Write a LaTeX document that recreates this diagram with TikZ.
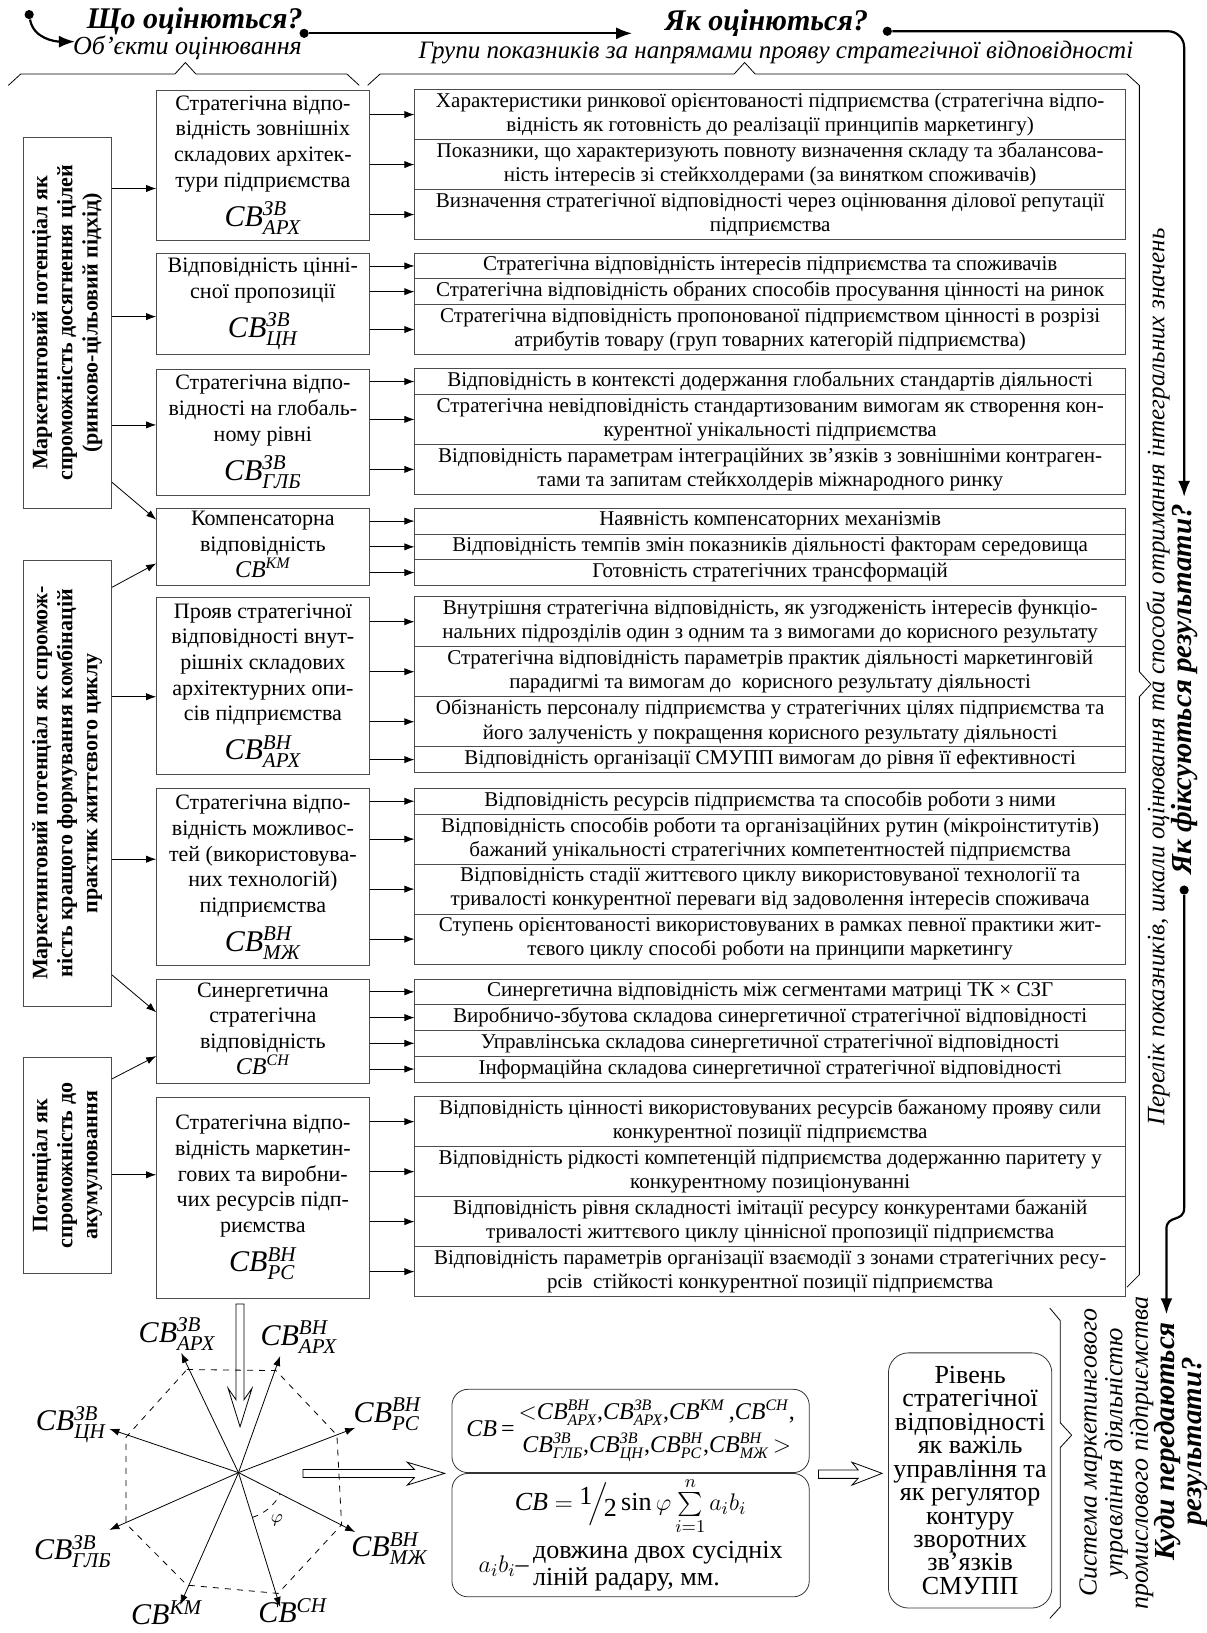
\documentclass[tikz,border=0pt]{standalone}
\usepackage{fontspec}
\usepackage{amsmath}
\setmainfont{Liberation Serif}
\usetikzlibrary{positioning,arrows.meta}

\newcommand{\cb}[2]{\textit{CB}\ensuremath{^{\text{\itshape #1}}_{\text{\itshape #2}}}}
\newcommand{\cbl}[2]{{\fontsize{15}{12}\selectfont\cb{#1}{#2}}}

\tikzset{
  ind/.style={draw=black!70, minimum width=355.2pt, minimum height=12.85pt, inner sep=0pt, outer sep=0pt, align=center, font=\fontsize{10.5}{12}\selectfont},
  two/.style={minimum height=24.96pt},
  obj/.style={draw=black!70, anchor=north west, minimum width=106.1pt, inner sep=1pt, align=center, font=\fontsize{11}{12.8}\selectfont},
  pot/.style={draw=black!70, rotate=90, minimum height=44.2pt, inner sep=1pt, align=center, font=\bfseries\fontsize{11}{12.5}\selectfont},
  dot/.style={circle, fill, inner sep=0pt, minimum size=4.6pt},
  ask/.style={font=\bfseries\itshape\fontsize{15}{17}\selectfont},
  note/.style={font=\itshape\fontsize{13}{13}\selectfont},
  bold line/.style={line width=1.1pt},
  radar/.style={font=\fontsize{15}{15}\selectfont},
  fbox/.style={draw=black!80, rounded corners=8pt, minimum width=178.4pt, inner sep=2pt, align=center}
}

\begin{document}
\begin{tikzpicture}[x=0.52pt, y=-0.52pt, >={Latex[length=5pt,width=3.6pt]}]
\useasboundingbox (0,0) rectangle (1158,1568);

\node[dot] (d1) at (28,14) {};
\node[ask] (q1) at (187,20) {Що оцінються?};
\node[note] (s1) at (180,46) {Об'єкти оцінювання};
\coordinate (c1) at (72,40);
\draw[bold line, -{Latex[length=8pt,width=6pt]}] (d1) to[out=-80,in=180] (c1);
\node[dot] (d2) at (292,32) {};
\coordinate (e2) at (607,32);
\draw[bold line, -{Latex[length=8pt,width=6pt]}] (d2) -- (e2);
\node[ask] (q2) at (736,22) {Як оцінються?};
\node[note, font=\itshape\fontsize{12.5}{13}\selectfont] (s2) at (745,50) {Групи показників за напрямами прояву стратегічної відповідності};
\node[dot] (d3) at (852,30) {};

\draw (8,82) -- (20,71) -- (168,71) -- (178,60) -- (188,71) -- (333,71) -- (345,82);
\draw (353,82) -- (365,71) -- (705,71) -- (715,60) -- (725,71) -- (1082,71) -- (1094,82) -- (1094,645) -- (1105,657) -- (1094,669) -- (1094,1224) -- (1082,1236);

\node[pot, minimum width=185.1pt] (a) at (64.5,310) {Маркетинговий потенціал як\\спроможність досягнення цілей\\(ринково-цільовий підхід)};
\node[pot, minimum width=222.6pt] (c) at (64.5,752) {Маркетинговий потенціал як спромож-\\ність кращого формування комбінацій\\практик життєвого циклу};
\node[pot, minimum width=108.2pt] (d) at (64.5,1119) {Потенціал як\\спроможність до\\акумулювання};

\node[obj, minimum height=74.9pt] (b1) at (150,86) {Стратегічна відпо-\\відність зовнішніх\\складових архітек-\\тури підприємства\\[4pt]\cbl{ЗВ}{АРХ}};
\node[obj, minimum height=50.4pt] (b2) at (150,243) {Відповідність цінні-\\сної пропозиції\\[4pt]\cbl{ЗВ}{ЦН}};
\node[obj, minimum height=62.9pt] (b3) at (150,354) {Стратегічна відпо-\\відності на глобаль-\\ному рівні\\[4pt]\cbl{ЗВ}{ГЛБ}};
\node[obj, minimum height=38.5pt] (b4) at (150,488) {Компенсаторна\\відповідність\\{\fontsize{12}{12}\selectfont\cb{КМ}{}}};
\node[obj, minimum height=88.4pt] (b5) at (150,573) {Прояв стратегічної\\відповідності внут-\\рішніх складових\\архітектурних опи-\\сів підприємства\\[4pt]\cbl{ВН}{АРХ}};
\node[obj, minimum height=88.4pt] (b6) at (150,757) {Стратегічна відпо-\\відність можливос-\\тей (використовува-\\них технологій)\\підприємства\\[4pt]\cbl{ВН}{МЖ}};
\node[obj, minimum height=52pt] (b7) at (150,940) {Синергетична\\стратегічна\\відповідність\\{\fontsize{12}{12}\selectfont\cb{СН}{}}};
\node[obj, minimum height=100.4pt] (b8) at (150,1053) {Стратегічна відпо-\\відність маркетин-\\гових та виробни-\\чих ресурсів підп-\\риємства\\[4pt]\cbl{ВН}{РС}};

\node[ind, two, anchor=north] (r11) at (739.5,86) {Характеристики ринкової орієнтованості підприємства (стратегічна відпо-\\відність як готовність до реалізації принципів маркетингу)};
\node[ind, two, below=0pt of r11] (r12) {Показники, що характеризують повноту визначення складу та збалансова-\\ність інтересів зі стейкхолдерами (за винятком споживачів)};
\node[ind, two, below=0pt of r12] (r13) {Визначення стратегічної відповідності через оцінювання ділової репутації\\підприємства};

\node[ind, anchor=north] (r21) at (739.5,243) {Стратегічна відповідність інтересів підприємства та споживачів};
\node[ind, below=0pt of r21] (r22) {Стратегічна відповідність обраних способів просування цінності на ринок};
\node[ind, two, below=0pt of r22] (r23) {Стратегічна відповідність пропонованої підприємством цінності в розрізі\\атрибутів товару (груп товарних категорій підприємства)};

\node[ind, anchor=north] (r31) at (739.5,354) {Відповідність в контексті додержання глобальних стандартів діяльності};
\node[ind, two, below=0pt of r31] (r32) {Стратегічна невідповідність стандартизованим вимогам як створення кон-\\курентної унікальності підприємства};
\node[ind, two, below=0pt of r32] (r33) {Відповідність параметрам інтеграційних зв’язків з зовнішніми контраген-\\тами та запитам стейкхолдерів міжнародного ринку};

\node[ind, anchor=north] (r41) at (739.5,488) {Наявність компенсаторних механізмів};
\node[ind, below=0pt of r41] (r42) {Відповідність темпів змін показників діяльності факторам середовища};
\node[ind, below=0pt of r42] (r43) {Готовність стратегічних трансформацій};

\node[ind, two, anchor=north] (r51) at (739.5,573) {Внутрішня стратегічна відповідність, як узгодженість інтересів функціо-\\нальних підрозділів один з одним та з вимогами до корисного результату};
\node[ind, two, below=0pt of r51] (r52) {Стратегічна відповідність параметрів практик діяльності маркетинговій\\парадигмі та вимогам до~ корисного результату діяльності};
\node[ind, two, below=0pt of r52] (r53) {Обізнаність персоналу підприємства у стратегічних цілях підприємства та\\його залученість у покращення корисного результату діяльності};
\node[ind, below=0pt of r53] (r54) {Відповідність організації СМУПП вимогам до рівня її ефективності};

\node[ind, anchor=north] (r61) at (739.5,757) {Відповідність ресурсів підприємства та способів роботи з ними};
\node[ind, two, below=0pt of r61] (r62) {Відповідність способів роботи та організаційних рутин (мікроінститутів)\\бажаний унікальності стратегічних компетентностей підприємства};
\node[ind, two, below=0pt of r62] (r63) {Відповідність стадії життєвого циклу використовуваної технології та\\тривалості конкурентної переваги від задоволення інтересів споживача};
\node[ind, two, below=0pt of r63] (r64) {Ступень орієнтованості використовуваних в рамках певної практики жит-\\тєвого циклу способі роботи на принципи маркетингу};

\node[ind, anchor=north] (r71) at (739.5,940) {Синергетична відповідність між сегментами матриці ТК × СЗГ};
\node[ind, below=0pt of r71] (r72) {Виробничо-збутова складова синергетичної стратегічної відповідності};
\node[ind, below=0pt of r72] (r73) {Управлінська складова синергетичної стратегічної відповідності};
\node[ind, below=0pt of r73] (r74) {Інформаційна складова синергетичної стратегічної відповідності};

\node[ind, two, anchor=north] (r81) at (739.5,1053) {Відповідність цінності використовуваних ресурсів бажаному прояву сили\\конкурентної позиції підприємства};
\node[ind, two, below=0pt of r81] (r82) {Відповідність рідкості компетенцій підприємства додержанню паритету у\\конкурентному позиціонуванні};
\node[ind, two, below=0pt of r82] (r83) {Відповідність рівня складності імітації ресурсу конкурентами бажаній\\тривалості життєвого циклу ціннісної пропозиції підприємства};
\node[ind, two, below=0pt of r83] (r84) {Відповідність параметрів організації взаємодії з зонами стратегічних ресу-\\рсів~ стійкості конкурентної позиції підприємства};

\draw[->] (a.south |- 0,181) -- (b1.west |- 0,181);
\draw[->] (a.south |- 0,304) -- (b2.west |- 0,304);
\draw[->] (a.south |- 0,408) -- (b3.west |- 0,408);
\draw[->] (a.south |- 0,463) -- (b4.west |- 0,499);
\draw[->] (c.south |- 0,564) -- (b4.west |- 0,541);
\draw[->] (c.south |- 0,669) -- (b5.west |- 0,669);
\draw[->] (c.south |- 0,825) -- (b6.west |- 0,825);
\draw[->] (c.south |- 0,936) -- (b7.west |- 0,972);
\draw[->] (d.south |- 0,1036) -- (b7.west |- 0,1014);
\draw[->] (d.south |- 0,1128) -- (b8.west |- 0,1128);

\draw[->] (b1.east |- r11) -- (r11.west);
\draw[->] (b1.east |- r12) -- (r12.west);
\draw[->] (b1.east |- r13) -- (r13.west);
\draw[->] (b2.east |- r21) -- (r21.west);
\draw[->] (b2.east |- r22) -- (r22.west);
\draw[->] (b2.east |- r23) -- (r23.west);
\draw[->] (b3.east |- r31) -- (r31.west);
\draw[->] (b3.east |- r32) -- (r32.west);
\draw[->] (b3.east |- r33) -- (r33.west);
\draw[->] (b4.east |- r41) -- (r41.west);
\draw[->] (b4.east |- r42) -- (r42.west);
\draw[->] (b4.east |- r43) -- (r43.west);
\draw[->] (b5.east |- r51) -- (r51.west);
\draw[->] (b5.east |- r52) -- (r52.west);
\draw[->] (b5.east |- r53) -- (r53.west);
\draw[->] (b5.east |- r54) -- (r54.west);
\draw[->] (b6.east |- r61) -- (r61.west);
\draw[->] (b6.east |- r62) -- (r62.west);
\draw[->] (b6.east |- r63) -- (r63.west);
\draw[->] (b6.east |- r64) -- (r64.west);
\draw[->] (b7.east |- r71) -- (r71.west);
\draw[->] (b7.east |- r72) -- (r72.west);
\draw[->] (b7.east |- r73) -- (r73.west);
\draw[->] (b7.east |- r74) -- (r74.west);
\draw[->] (b8.east |- r81) -- (r81.west);
\draw[->] (b8.east |- r82) -- (r82.west);
\draw[->] (b8.east |- r83) -- (r83.west);
\draw[->] (b8.east |- r84) -- (r84.west);

\node[rotate=90, font=\itshape\fontsize{12.5}{13}\selectfont] (lst) at (1112,650) {Перелік показників, шкали оцінювання та способи отримання інтегральних значень};
\node[rotate=90, font=\bfseries\itshape\fontsize{14.5}{12}\selectfont] (fx) at (1137,662) {Як фіксуються результати?};
\draw[bold line, rounded corners=8pt, -{Latex[length=8pt,width=6pt]}] (d3) -| (fx.east);
\node[dot] (d4) at ([yshift=-4pt]fx.west) {};
\coordinate (k0) at (1120,1262);
\draw[bold line, -{Latex[length=8pt,width=6pt]}] (d4) -- (1137,1160) .. controls (1137,1174) and (1120,1166) .. (1120,1180) -- (k0);
\node[rotate=90, align=center, font=\bfseries\itshape\fontsize{14.5}{11.8}\selectfont] (kd) at (1134,1384) {Куди передаються\\результати?};
\node[rotate=90, align=center, font=\itshape\fontsize{13}{11.7}\selectfont] (sys) at (1072,1395) {Система маркетингового\\управління діяльністю\\промислового підприємства};
\draw (1008,1256) -- (1018,1268) -- (1018,1366) -- (1029,1378) -- (1018,1390) -- (1018,1543) -- (1008,1554);

\coordinate (o) at (229,1414);
\coordinate (t1) at (174,1299);
\coordinate (t2) at (269,1302);
\coordinate (t3) at (341,1371);
\coordinate (t4) at (341,1471);
\coordinate (t5) at (269,1543);
\coordinate (t6) at (173,1541);
\coordinate (t7) at (105,1469);
\coordinate (t8) at (105,1372);
\draw[->] (o) -- (t1);
\draw[->] (o) -- (t2);
\draw[->] (o) -- (t3);
\draw[->] (o) -- (t4);
\draw[->] (o) -- (t5);
\draw[->] (o) -- (t6);
\draw[->] (o) -- (t7);
\draw[->] (o) -- (t8);
\draw[dashed] (179.5,1315) -- (265,1316) -- (323.5,1378) -- (328,1464) -- (267,1530) -- (179.5,1522) -- (121,1463) -- (121,1380) -- cycle;
\draw[dashed] ([shift={(-72.8:23.4pt)}]o) arc[start angle=-72.8, end angle=-27, radius=23.4pt];
\node[font=\small] (phi) at (266,1460) {$\varphi$};
\node[radar] (l1) at (170,1281) {\cb{ЗВ}{АРХ}};
\node[radar] (l2) at (287,1284) {\cb{ВН}{АРХ}};
\node[radar] (l3) at (372,1358) {\cb{ВН}{РС}};
\node[radar] (l4) at (374,1487) {\cb{ВН}{МЖ}};
\node[radar] (l5) at (281,1550) {\cb{СН}{}};
\node[radar] (l6) at (160,1552) {\cb{КМ}{}};
\node[radar] (l7) at (70,1490) {\cb{ЗВ}{ГЛБ}};
\node[radar] (l8) at (68,1368) {\cb{ЗВ}{ЦН}};

\draw (226.6,1252) -- (226.6,1344) -- (219,1333) -- (230.5,1370) -- (242,1333) -- (234.3,1344) -- (234.3,1252) -- cycle;
\draw (291,1411) -- (398,1411) -- (391,1404) -- (427,1414.7) -- (391,1426) -- (398,1418.6) -- (291,1418.6) -- cycle;
\draw (786,1411.5) -- (824,1411.5) -- (818,1404) -- (847,1414.7) -- (818,1426) -- (824,1419.5) -- (786,1419.5) -- cycle;

\node[fbox, minimum height=41.6pt, inner sep=1pt, font=\fontsize{12}{13}\selectfont] (f1) at (605.5,1374) {\textit{CB}\,=\,\begin{tabular}{@{}c@{}}$<$\cb{ВН}{АРХ},\cb{ЗВ}{АРХ},\cb{КМ}{}\,,\cb{СН}{},\\[3pt]\cb{ЗВ}{ГЛБ},\cb{ЗВ}{ЦН},\cb{ВН}{РС},\cb{ВН}{МЖ}\,$>$\end{tabular}};
\node[fbox, minimum height=54.6pt, below=0pt of f1, font=\fontsize{13}{13}\selectfont] (f2) {\textit{CB} $=$ \raisebox{3pt}{1}\kern-2pt$\Big/$\kern-2pt\raisebox{-3pt}{2}\,sin\,$\varphi\sum\limits_{i=1}^{n}a_ib_i$\\[2pt]$a_ib_i$--\,\begin{tabular}{@{}l@{}}довжина двох сусідніх\\ліній радару, мм.\end{tabular}};

\node[draw=black!80, rounded corners=10pt, minimum width=81.6pt, minimum height=127.4pt, inner sep=1pt, align=center, font=\fontsize{13}{11.7}\selectfont] (lvl) at (931.5,1421.5) {Рівень\\стратегічної\\відповідності\\як важіль\\управління та\\як регулятор\\контуру\\зворотних\\зв'язків\\СМУПП};
\end{tikzpicture}
\end{document}
